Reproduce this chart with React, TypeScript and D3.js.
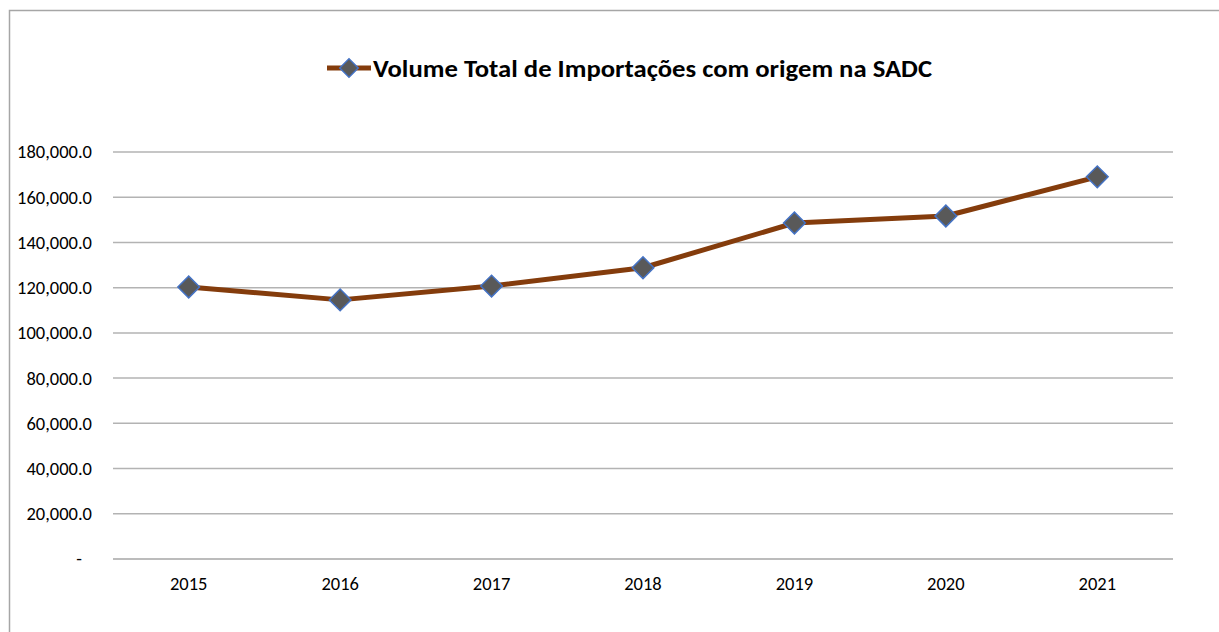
import React, { useEffect, useRef } from "react";
import * as d3 from "d3";

const years = ["2015", "2016", "2017", "2018", "2019", "2020", "2021"];
const volumes = [120300, 114600, 120700, 128800, 148600, 151700, 169000];
const yTicks = [0, 20000, 40000, 60000, 80000, 100000, 120000, 140000, 160000, 180000];
const seriesName = "Volume Total de Importações com origem na SADC";

const App = () => {
  const ref = useRef<SVGSVGElement | null>(null);

  useEffect(() => {
    const width = 1219;
    const height = 632;
    const margin = { top: 152, right: 46, bottom: 73, left: 113 };
    const font = "Carlito, Calibri, 'Liberation Sans Narrow', 'Open Sans', sans-serif";

    const svg = d3.select(ref.current);
    svg.selectAll("*").remove();

    // chart frame
    svg.append("rect")
      .attr("x", 9.5).attr("y", 10.5)
      .attr("width", width).attr("height", height)
      .attr("fill", "#fff")
      .attr("stroke", "#a6a6a6")
      .attr("stroke-width", 1.5);

    const x = d3.scaleBand()
      .domain(years)
      .range([margin.left, width - margin.right]);

    const y = d3.scaleLinear()
      .domain([0, 180000])
      .range([height - margin.bottom, margin.top]);

    // gridlines
    svg.append("g")
      .selectAll("line")
      .data(yTicks)
      .enter()
      .append("line")
      .attr("x1", margin.left)
      .attr("x2", width - margin.right)
      .attr("y1", d => y(d))
      .attr("y2", d => y(d))
      .attr("stroke", d => (d === 0 ? "#a6a6a6" : "#b3b3b3"))
      .attr("stroke-width", 1.5);

    // y labels
    const fmt = d3.format(",.1f");
    svg.append("g")
      .selectAll("text")
      .data(yTicks)
      .enter()
      .append("text")
      .attr("x", d => (d === 0 ? 82 : 92))
      .attr("y", d => y(d))
      .attr("dy", "0.35em")
      .attr("text-anchor", "end")
      .attr("font-family", font)
      .attr("font-size", 18.5)
      .attr("fill", "#000")
      .text(d => (d === 0 ? "-" : fmt(d)));

    // x labels
    svg.append("g")
      .selectAll("text")
      .data(years)
      .enter()
      .append("text")
      .attr("x", d => (x(d) as number) + x.bandwidth() / 2)
      .attr("y", 590)
      .attr("text-anchor", "middle")
      .attr("font-family", font)
      .attr("font-size", 18.5)
      .attr("fill", "#000")
      .text(d => d);

    const pts = years.map((yr, i) => ({ yr, v: volumes[i] }));
    const line = d3.line<{ yr: string; v: number }>()
      .x(d => (x(d.yr) as number) + x.bandwidth() / 2)
      .y(d => y(d.v));

    svg.append("path")
      .datum(pts)
      .attr("d", line)
      .attr("fill", "none")
      .attr("stroke", "#843c0c")
      .attr("stroke-width", 5)
      .attr("stroke-linejoin", "round");

    const diamond = d3.symbol().type(d3.symbolSquare).size(235);
    svg.append("g")
      .selectAll("path")
      .data(pts)
      .enter()
      .append("path")
      .attr("d", diamond)
      .attr("transform", d => `translate(${(x(d.yr) as number) + x.bandwidth() / 2},${y(d.v)}) rotate(45)`)
      .attr("fill", "#595959")
      .attr("stroke", "#4472c4")
      .attr("stroke-width", 1.5);

    // legend / title
    const lg = svg.append("g");
    lg.append("line")
      .attr("x1", 327).attr("x2", 371)
      .attr("y1", 68).attr("y2", 68)
      .attr("stroke", "#843c0c")
      .attr("stroke-width", 5);
    lg.append("path")
      .attr("d", d3.symbol().type(d3.symbolSquare).size(170))
      .attr("transform", "translate(349,68) rotate(45)")
      .attr("fill", "#595959")
      .attr("stroke", "#4472c4")
      .attr("stroke-width", 1.5);
    lg.append("text")
      .attr("x", 373)
      .attr("y", 77)
      .attr("font-family", font)
      .attr("font-weight", "bold")
      .attr("font-size", 25)
      .attr("textLength", 559)
      .attr("lengthAdjust", "spacingAndGlyphs")
      .attr("fill", "#000")
      .text(seriesName);
  }, []);

  return (
    <svg
      ref={ref}
      width={1219}
      height={632}
      style={{ position: "absolute", left: 0, top: 0, display: "block" }}
    />
  );
};

export default App;
